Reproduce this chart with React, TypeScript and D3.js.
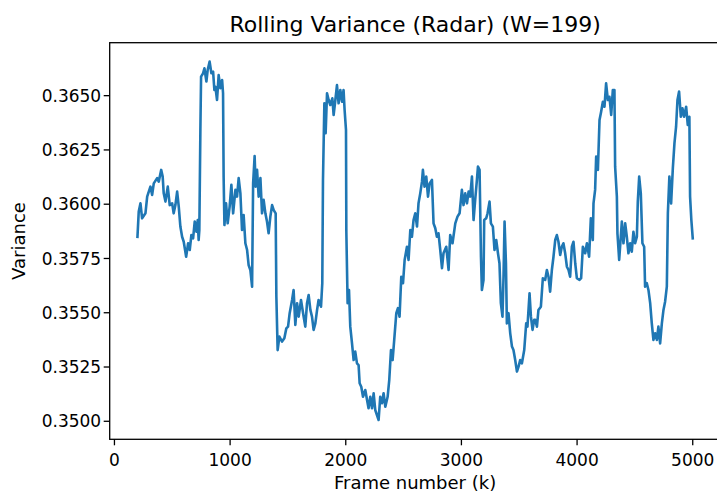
import React from "react";
import * as d3 from "d3";

const frames: number[] = [
  199, 210, 225, 239, 268, 283, 311, 326, 340, 369, 383, 404, 417, 426, 441, 461, 478, 499, 512, 527,
  542, 556, 570, 585, 599, 620, 637, 651, 665, 680, 694, 709, 720, 728, 734, 743, 749, 766, 778, 795,
  806, 823, 838, 853, 864, 873, 887, 901, 916, 931, 939, 944, 951, 965, 979, 996, 1011, 1026, 1046, 1060,
  1074, 1089, 1103, 1117, 1132, 1147, 1160, 1175, 1190, 1199, 1212, 1221, 1233, 1247, 1262, 1276, 1290, 1305, 1319, 1333,
  1348, 1363, 1377, 1394, 1400, 1411, 1426, 1449, 1469, 1486, 1501, 1515, 1536, 1549, 1564, 1579, 1593, 1613, 1631, 1650,
  1665, 1679, 1694, 1708, 1722, 1737, 1752, 1765, 1786, 1797, 1803, 1815, 1826, 1838, 1852, 1866, 1884, 1895, 1910, 1924,
  1938, 1953, 1968, 1981, 1990, 2002, 2005, 2016, 2028, 2039, 2054, 2068, 2082, 2097, 2111, 2120, 2134, 2149, 2169, 2184,
  2197, 2212, 2227, 2241, 2255, 2284, 2298, 2313, 2327, 2342, 2362, 2376, 2391, 2405, 2419, 2437, 2451, 2465, 2480, 2495,
  2509, 2529, 2543, 2558, 2572, 2586, 2601, 2616, 2629, 2644, 2659, 2667, 2681, 2696, 2711, 2725, 2745, 2759, 2774, 2788,
  2802, 2817, 2832, 2845, 2869, 2889, 2903, 2923, 2947, 2966, 2984, 3004, 3018, 3033, 3048, 3062, 3076, 3091, 3105, 3119,
  3134, 3143, 3157, 3169, 3177, 3191, 3197, 3214, 3226, 3243, 3255, 3272, 3286, 3301, 3316, 3329, 3341, 3355, 3364, 3373,
  3385, 3393, 3407, 3422, 3437, 3450, 3465, 3480, 3494, 3508, 3523, 3543, 3560, 3571, 3589, 3601, 3615, 3629, 3638, 3653,
  3666, 3687, 3704, 3724, 3739, 3753, 3767, 3782, 3796, 3811, 3825, 3839, 3854, 3868, 3882, 3897, 3912, 3926, 3940, 3955,
  3969, 3984, 3998, 4021, 4035, 4050, 4070, 4085, 4104, 4119, 4136, 4142, 4156, 4165, 4180, 4194, 4208, 4223, 4237, 4251,
  4266, 4280, 4295, 4309, 4323, 4329, 4344, 4349, 4364, 4378, 4387, 4401, 4416, 4430, 4444, 4459, 4473, 4487, 4502, 4517,
  4525, 4537, 4551, 4565, 4580, 4588, 4603, 4617, 4632, 4646, 4660, 4675, 4690, 4703, 4718, 4733, 4747, 4761, 4776, 4785,
  4798, 4813, 4828, 4842, 4856, 4868, 4882, 4897, 4911, 4925, 4943, 4957, 4971, 4977, 4988, 5000,
];

const variance: number[] = [
  0.3585, 0.35966, 0.36004, 0.35935, 0.35958, 0.36035, 0.36081, 0.36043, 0.36096, 0.3612, 0.36104, 0.36158, 0.36127, 0.3605, 0.36012, 0.36081, 0.35996, 0.36004, 0.35958, 0.35996,
  0.36058, 0.35989, 0.35897, 0.3585, 0.35827, 0.35758, 0.3582, 0.35789, 0.35858, 0.35843, 0.3592, 0.35873, 0.35927, 0.35835, 0.35881, 0.36342, 0.36588, 0.36603, 0.36626, 0.36565,
  0.36618, 0.36657, 0.36603, 0.36611, 0.36526, 0.36541, 0.3648, 0.36595, 0.36534, 0.36572, 0.36511, 0.36127, 0.35904, 0.36004, 0.35912, 0.35989, 0.36089, 0.35958, 0.36066, 0.36035,
  0.3612, 0.3605, 0.35881, 0.3595, 0.3582, 0.35789, 0.3572, 0.35697, 0.3562, 0.36096, 0.36222, 0.36081, 0.36158, 0.36035, 0.3612, 0.35958, 0.3602, 0.35958, 0.3592, 0.35866,
  0.35943, 0.35996, 0.35973, 0.35958, 0.35574, 0.35328, 0.3539, 0.35367, 0.35382, 0.35428, 0.35436, 0.35498, 0.35559, 0.35605, 0.35444, 0.35544, 0.35482, 0.35559, 0.35498, 0.35436,
  0.35544, 0.35582, 0.35513, 0.35482, 0.35421, 0.35451, 0.35513, 0.35559, 0.35528, 0.35636, 0.36112, 0.36465, 0.36327, 0.36511, 0.3648, 0.36457, 0.36488, 0.36411, 0.3648, 0.36549,
  0.36465, 0.36526, 0.36472, 0.36526, 0.36434, 0.36342, 0.35873, 0.35544, 0.35605, 0.35436, 0.35359, 0.35282, 0.35321, 0.35267, 0.35259, 0.35175, 0.35159, 0.35113, 0.35144, 0.35098,
  0.3506, 0.35113, 0.3506, 0.35129, 0.35052, 0.35006, 0.35113, 0.35083, 0.35129, 0.35067, 0.35113, 0.3519, 0.35328, 0.35282, 0.35375, 0.35498, 0.35521, 0.35482, 0.35666, 0.35636,
  0.35743, 0.35804, 0.35743, 0.35881, 0.3585, 0.35927, 0.35958, 0.35897, 0.36004, 0.3605, 0.36104, 0.36158, 0.36081, 0.36127, 0.36035, 0.36096, 0.36112, 0.35912, 0.35889, 0.3585,
  0.35866, 0.35789, 0.35705, 0.35774, 0.35804, 0.35697, 0.35858, 0.3582, 0.35912, 0.35943, 0.35958, 0.36066, 0.35996, 0.3605, 0.36004, 0.36058, 0.36035, 0.36127, 0.35927, 0.3602,
  0.36112, 0.36173, 0.36158, 0.35758, 0.35605, 0.35651, 0.35927, 0.35935, 0.35958, 0.36012, 0.35912, 0.35897, 0.35789, 0.35835, 0.35774, 0.35728, 0.35544, 0.35482, 0.35666, 0.3592,
  0.35728, 0.35451, 0.35498, 0.35405, 0.35344, 0.35328, 0.35282, 0.35229, 0.35252, 0.35282, 0.35267, 0.35328, 0.35451, 0.35436, 0.3559, 0.35482, 0.35421, 0.35467, 0.35467, 0.35436,
  0.35513, 0.35528, 0.35659, 0.35651, 0.35697, 0.35666, 0.35597, 0.35697, 0.35758, 0.35835, 0.35858, 0.35827, 0.35766, 0.35804, 0.3582, 0.35774, 0.35712, 0.35697, 0.35666, 0.35804,
  0.35827, 0.35728, 0.35659, 0.35651, 0.35659, 0.35804, 0.35774, 0.3582, 0.35758, 0.35935, 0.35835, 0.36004, 0.36066, 0.36219, 0.36158, 0.36388, 0.36426, 0.36472, 0.36449, 0.36557,
  0.3648, 0.36495, 0.36411, 0.36526, 0.36526, 0.36173, 0.36035, 0.35866, 0.35743, 0.3585, 0.3592, 0.3582, 0.35912, 0.3585, 0.35774, 0.3582, 0.35781, 0.35873, 0.3582, 0.3585,
  0.36012, 0.36127, 0.3605, 0.3582, 0.35804, 0.3562, 0.35636, 0.35605, 0.35544, 0.35451, 0.35375, 0.35405, 0.35375, 0.35436, 0.35359, 0.35451, 0.35513, 0.35551, 0.3562, 0.35958,
  0.36127, 0.36004, 0.36166, 0.36281, 0.36357, 0.3648, 0.36519, 0.36403, 0.36442, 0.36403, 0.36449, 0.36365, 0.36403, 0.36035, 0.35927, 0.35843,
];

const xTicks: number[] = [0, 1000, 2000, 3000, 4000, 5000];
const yTicks: number[] = [0.35, 0.3525, 0.355, 0.3575, 0.36, 0.3625, 0.365];

const W = 717;
const H = 492;
const left = 109.7;
const top = 42.7;
const bottom = 439.3;
const right = 720.5;
const font = "'DejaVu Sans', sans-serif";
const color = "#1f77b4";
const tickFont = 17;
const labelFont = 18;

export default function App() {
  const data = frames.map((f, i) => ({ x: f, y: variance[i] }));
  const xExt = d3.extent(frames) as [number, number];
  const xPad = (xExt[1] - xExt[0]) * 0.05;
  const x = d3.scaleLinear().domain([xExt[0] - xPad, xExt[1] + xPad]).range([left, right]);
  const y = d3.scaleLinear().domain([0.3500 - 0.00083, 0.36661 + 0.00083]).range([bottom, top]);
  const line = d3
    .line<{ x: number; y: number }>()
    .x((d) => x(d.x))
    .y((d) => y(d.y));

  return (
    <svg
      width={W}
      height={H}
      viewBox={`0 0 ${W} ${H}`}
      style={{ position: "absolute", left: 0, top: 0, background: "#fff" }}
    >
      <rect x={0} y={0} width={W} height={H} fill="#fff" />
      <defs>
        <clipPath id="plotclip">
          <rect x={left} y={top} width={right - left} height={bottom - top} />
        </clipPath>
      </defs>
      <path
        d={line(data) || ""}
        fill="none"
        stroke={color}
        strokeWidth={2.6}
        strokeLinejoin="round"
        strokeLinecap="square"
        clipPath="url(#plotclip)"
      />
      <rect
        x={left}
        y={top}
        width={right - left}
        height={bottom - top}
        fill="none"
        stroke="#000"
        strokeWidth={1.3}
      />
      {xTicks.map((t) => (
        <g key={`x${t}`}>
          <line x1={x(t)} x2={x(t)} y1={bottom} y2={bottom + 6} stroke="#000" strokeWidth={1.3} />
          <text
            x={x(t)}
            y={bottom + 27}
            textAnchor="middle"
            fontFamily={font}
            fontSize={tickFont}
            fill="#000"
          >
            {t}
          </text>
        </g>
      ))}
      {yTicks.map((t) => (
        <g key={`y${t}`}>
          <line x1={left - 6} x2={left} y1={y(t)} y2={y(t)} stroke="#000" strokeWidth={1.3} />
          <text
            x={left - 8.5}
            y={y(t)}
            dy="0.36em"
            textAnchor="end"
            fontFamily={font}
            fontSize={tickFont}
            fill="#000"
          >
            {t.toFixed(4)}
          </text>
        </g>
      ))}
      <text
        x={(left + right) / 2}
        y={32}
        textAnchor="middle"
        fontFamily={font}
        fontSize={22}
        fill="#000"
      >
        Rolling Variance (Radar) (W=199)
      </text>
      <text
        x={(left + right) / 2}
        y={489}
        textAnchor="middle"
        fontFamily={font}
        fontSize={labelFont}
        fill="#000"
      >
        Frame number (k)
      </text>
      <text
        transform={`translate(24.5, ${(top + bottom) / 2}) rotate(-90)`}
        textAnchor="middle"
        fontFamily={font}
        fontSize={labelFont}
        fill="#000"
      >
        Variance
      </text>
    </svg>
  );
}
